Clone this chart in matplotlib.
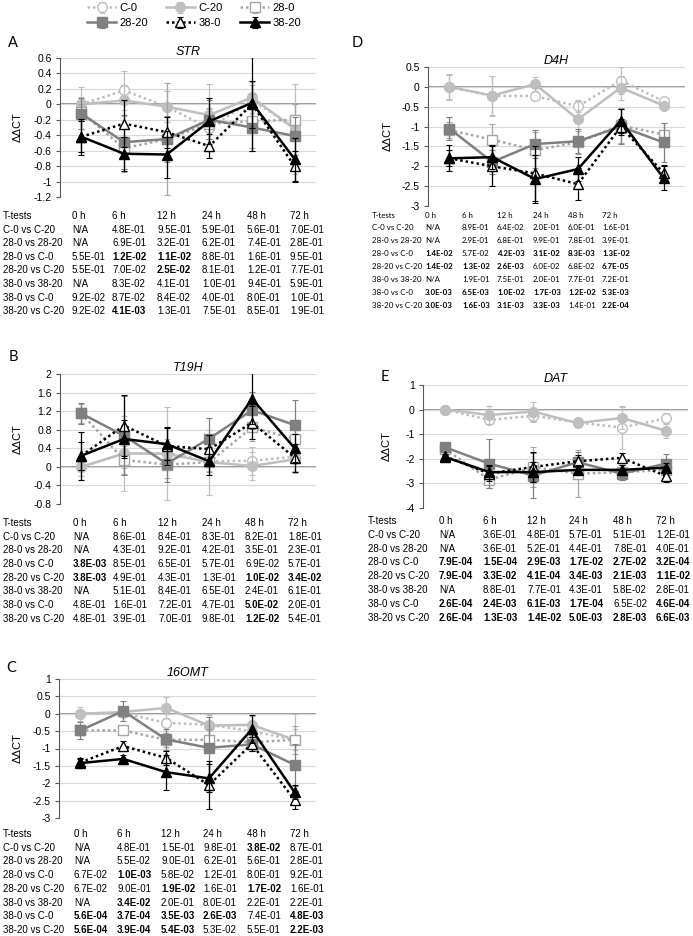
import numpy as np
import matplotlib
matplotlib.use('Agg')
import matplotlib.pyplot as plt
from matplotlib.ticker import FuncFormatter, MultipleLocator

plt.rcParams['font.family'] = ['Liberation Sans', 'DejaVu Sans']

W, H = 693, 936

times = ['0 h', '6 h', '12 h', '24 h', '48 h', '72 h']
series = ['C-0', 'C-20', '28-0', '28-20', '38-0', '38-20']

# means (rows follow `series`)
STR_MEAN = [[0, 0.18, -0.03, -0.31, 0.05, -0.3],
            [0, 0.05, -0.03, -0.14, 0.09, -0.32],
            [-0.1, -0.57, -0.45, -0.25, -0.22, -0.2],
            [-0.12, -0.49, -0.45, -0.2, -0.3, -0.41],
            [-0.42, -0.25, -0.36, -0.54, 0.0, -0.8],
            [-0.42, -0.64, -0.65, -0.22, 0.02, -0.71]]
STR_ERR = [[0.1, 0.25, 0.2, 0.25, 0.2, 0.3],
           [0.22, 0.2, 0.2, 0.4, 0.2, 0.58],
           [0.1, 0.3, 0.72, 0.2, 0.35, 0.2],
           [0.2, 0.35, 0.3, 0.25, 0.3, 0.25],
           [0.2, 0.3, 0.2, 0.15, 0.3, 0.2],
           [0.23, 0.22, 0.3, 0.3, 0.62, 0.28]]

T19H_MEAN = [[0, 0.28, 0.3, 0.12, 0.13, 0.22],
             [0, 0.29, 0.28, 0.1, 0.02, 0.16],
             [1.15, 0.15, 0.05, 0.1, 0.85, 0.6],
             [1.15, 0.67, 0.07, 0.61, 1.22, 0.9],
             [0.24, 0.89, 0.45, 0.38, 0.95, 0.2],
             [0.24, 0.6, 0.49, 0.12, 1.47, 0.4]]
T19H_ERR = [[0.2, 0.3, 0.3, 0.2, 0.3, 0.3],
            [0.2, 0.8, 1.0, 0.7, 0.3, 0.3],
            [0.2, 0.3, 0.3, 0.2, 0.3, 0.4],
            [0.22, 0.85, 0.4, 0.45, 0.4, 0.55],
            [0.3, 0.65, 0.4, 0.3, 0.35, 0.3],
            [0.52, 0.4, 0.35, 0.3, 0.55, 0.3]]

OMT_MEAN = [[0, 0.02, -0.26, -0.32, -0.5, -0.75],
            [0, 0.05, 0.17, -0.34, -0.32, -0.75],
            [-0.48, -0.48, -0.75, -0.75, -0.82, -0.75],
            [-0.48, 0.08, -0.74, -0.98, -0.88, -1.47],
            [-1.4, -0.93, -1.27, -2.05, -0.87, -2.48],
            [-1.42, -1.3, -1.68, -1.86, -0.45, -2.26]]
OMT_ERR = [[0.1, 0.1, 0.25, 0.3, 0.3, 0.3],
           [0.2, 0.1, 0.3, 0.3, 0.25, 0.75],
           [0.1, 0.12, 0.2, 0.3, 0.2, 0.4],
           [0.25, 0.3, 0.3, 0.9, 0.2, 0.6],
           [0.1, 0.15, 0.2, 0.7, 0.2, 0.27],
           [0.15, 0.1, 0.5, 0.4, 0.4, 0.2]]

D4H_MEAN = [[0, -0.23, -0.23, -0.49, 0.16, -0.36],
            [0, -0.22, 0.07, -0.82, -0.02, -0.47],
            [-1.09, -1.33, -1.59, -1.4, -0.97, -1.2],
            [-1.05, -1.89, -1.44, -1.37, -1.0, -1.4],
            [-1.8, -2.0, -2.18, -2.45, -1.0, -2.17],
            [-1.8, -1.77, -2.32, -2.07, -0.85, -2.3]]
D4H_ERR = [[0.3, 0.5, 0.1, 0.15, 0.35, 0.1],
           [0.33, 0.5, 0.17, 0.47, 0.3, 0.1],
           [0.2, 0.4, 0.45, 0.3, 0.45, 0.3],
           [0.3, 0.3, 0.35, 0.3, 0.45, 0.5],
           [0.2, 0.5, 0.7, 0.4, 0.2, 0.2],
           [0.33, 0.3, 0.6, 0.3, 0.3, 0.3]]

DAT_MEAN = [[0, -0.42, -0.25, -0.52, -0.73, -0.36],
            [0, -0.22, -0.08, -0.55, -0.34, -0.86],
            [-1.6, -2.85, -2.34, -2.6, -2.55, -2.45],
            [-1.53, -2.2, -2.68, -2.14, -2.6, -2.2],
            [-1.9, -2.6, -2.33, -2.1, -1.96, -2.7],
            [-1.93, -2.54, -2.54, -2.45, -2.45, -2.36]]
DAT_ERR = [[0.1, 0.15, 0.25, 0.1, 0.87, 0.22],
           [0.1, 0.35, 0.4, 0.1, 0.45, 0.3],
           [0.1, 0.35, 0.8, 0.95, 0.3, 0.2],
           [0.1, 1.0, 0.92, 0.4, 0.25, 0.4],
           [0.1, 0.3, 0.6, 0.25, 0.2, 0.25],
           [0.1, 0.3, 0.4, 0.2, 0.2, 0.2]]

# t-test tables
ttest_rows = ['C-0 vs C-20', '28-0 vs 28-20', '28-0 vs C-0', '28-20 vs C-20',
              '38-0 vs 38-20', '38-0 vs C-0', '38-20 vs C-20']
STR_P = [['N/A', '4.8E-01', '9.5E-01', '5.9E-01', '5.6E-01', '7.0E-01'],
         ['N/A', '6.9E-01', '3.2E-01', '6.2E-01', '7.4E-01', '2.8E-01'],
         ['5.5E-01', '1.2E-02', '1.1E-02', '8.8E-01', '1.6E-01', '9.5E-01'],
         ['5.5E-01', '7.0E-02', '2.5E-02', '8.1E-01', '1.2E-01', '7.7E-01'],
         ['N/A', '8.3E-02', '4.1E-01', '1.0E-01', '9.4E-01', '5.9E-01'],
         ['9.2E-02', '8.7E-02', '8.4E-02', '4.0E-01', '8.0E-01', '1.0E-01'],
         ['9.2E-02', '4.1E-03', '1.3E-01', '7.5E-01', '8.5E-01', '1.9E-01']]
T19H_P = [['N/A', '8.6E-01', '8.4E-01', '8.3E-01', '8.2E-01', '1.8E-01'],
          ['N/A', '4.3E-01', '9.2E-01', '4.2E-01', '3.5E-01', '2.3E-01'],
          ['3.8E-03', '8.5E-01', '6.5E-01', '5.7E-01', '6.9E-02', '5.7E-01'],
          ['3.8E-03', '4.9E-01', '4.3E-01', '1.3E-01', '1.0E-02', '3.4E-02'],
          ['N/A', '5.1E-01', '8.4E-01', '6.5E-01', '2.4E-01', '6.1E-01'],
          ['4.8E-01', '1.6E-01', '7.2E-01', '4.7E-01', '5.0E-02', '2.0E-01'],
          ['4.8E-01', '3.9E-01', '7.0E-01', '9.8E-01', '1.2E-02', '5.4E-01']]
OMT_P = [['N/A', '4.8E-01', '1.5E-01', '9.8E-01', '3.8E-02', '8.7E-01'],
         ['N/A', '5.5E-02', '9.0E-01', '6.2E-01', '5.6E-01', '2.8E-01'],
         ['6.7E-02', '1.0E-03', '5.8E-02', '1.2E-01', '8.0E-01', '9.2E-01'],
         ['6.7E-02', '9.0E-01', '1.9E-02', '1.6E-01', '1.7E-02', '1.6E-01'],
         ['N/A', '3.4E-02', '2.0E-01', '8.0E-01', '2.2E-01', '2.2E-01'],
         ['5.6E-04', '3.7E-04', '3.5E-03', '2.6E-03', '7.4E-01', '4.8E-03'],
         ['5.6E-04', '3.9E-04', '5.4E-03', '5.3E-02', '5.5E-01', '2.2E-03']]
D4H_P = [['N/A', '8.9E-01', '6.4E-02', '2.0E-01', '6.0E-01', '1.6E-01'],
         ['N/A', '2.9E-01', '6.8E-01', '9.9E-01', '7.8E-01', '3.9E-01'],
         ['1.4E-02', '5.7E-02', '4.2E-03', '3.1E-02', '8.3E-03', '1.3E-02'],
         ['1.4E-02', '1.3E-02', '2.6E-03', '6.0E-02', '6.8E-02', '6.7E-05'],
         ['N/A', '1.9E-01', '7.5E-01', '2.0E-01', '7.7E-01', '7.2E-01'],
         ['3.0E-03', '6.5E-03', '1.0E-02', '1.7E-03', '1.2E-02', '5.3E-03'],
         ['3.0E-03', '1.6E-03', '3.1E-03', '3.3E-03', '1.4E-01', '2.2E-04']]
DAT_P = [['N/A', '3.6E-01', '4.8E-01', '5.7E-01', '5.1E-01', '1.2E-01'],
         ['N/A', '3.6E-01', '5.2E-01', '4.4E-01', '7.8E-01', '4.0E-01'],
         ['7.9E-04', '1.5E-04', '2.9E-03', '1.7E-02', '2.7E-02', '3.2E-04'],
         ['7.9E-04', '3.3E-02', '4.1E-04', '3.4E-03', '2.1E-03', '1.1E-02'],
         ['N/A', '8.8E-01', '7.7E-01', '4.3E-01', '5.8E-02', '2.8E-01'],
         ['2.6E-04', '2.4E-03', '6.1E-03', '1.7E-04', '6.5E-02', '4.6E-04'],
         ['2.6E-04', '1.3E-03', '1.4E-02', '5.0E-03', '2.8E-03', '6.6E-03']]

styles = [dict(color='#bfbfbf', ls=(0, (1, 1.2)), marker='o', mfc='white'),
          dict(color='#bfbfbf', ls='-', marker='o', mfc='#bfbfbf'),
          dict(color='#a6a6a6', ls=(0, (1, 1.2)), marker='s', mfc='white'),
          dict(color='#808080', ls='-', marker='s', mfc='#808080'),
          dict(color='black', ls=(0, (1, 1.2)), marker='^', mfc='white'),
          dict(color='black', ls='-', marker='^', mfc='black')]

fig = plt.figure(figsize=(W / 100, H / 100), dpi=100)


def px_axes(x0, y0, x1, y1):
    return fig.add_axes([x0 / W, 1 - y1 / H, (x1 - x0) / W, (y1 - y0) / H])


def fmt(v, p):
    if abs(v) < 1e-9:
        return '0'
    return '%g' % round(v, 2)


def panel(box, mean, err, ylim, step, title, letter, lpos, ylab_x):
    ax = px_axes(*box)
    x = np.arange(len(times))
    handles = []
    for i, s in enumerate(styles):
        eb = ax.errorbar(x, mean[i], yerr=err[i], color=s['color'], ls=s['ls'],
                         marker=s['marker'], mfc=s['mfc'], mec=s['color'],
                         ms=7, lw=1.8, elinewidth=0.9, capsize=2, capthick=0.8,
                         zorder=3 + i)
        handles.append(eb)
    ax.set_xlim(-0.5, len(times) - 0.5)
    ax.set_ylim(*ylim)
    ax.yaxis.set_major_locator(MultipleLocator(step))
    ax.yaxis.set_major_formatter(FuncFormatter(fmt))
    ax.grid(axis='y', color='#d9d9d9', lw=0.8, zorder=0)
    ax.axhline(0, color='#7f7f7f', lw=1.1, zorder=1)
    for sp in ['top', 'right', 'bottom']:
        ax.spines[sp].set_visible(False)
    ax.spines['left'].set_color('#595959')
    ax.set_xticks([])
    ax.tick_params(axis='y', labelsize=7.5, length=3, color='#595959', pad=3)
    ax.set_title(title, style='italic', fontsize=9, pad=2)
    fig.text(lpos[0] / W, 1 - lpos[1] / H, letter, fontsize=10.5,
             family=['Lato', 'DejaVu Sans'], va='center', ha='left')
    fig.text(ylab_x / W, 1 - (box[1] + box[3]) / 2 / H, 'ΔΔCT', rotation=90,
             fontsize=8, va='center', ha='center')
    return handles


def table(rows, cols_x, y0, dy, family, size):
    hdr = ['T-tests'] + times
    for j, t in enumerate(hdr):
        fig.text(cols_x[j] / W, 1 - y0 / H, t, fontsize=size, family=family,
                 va='center', ha='left')
    for i, name in enumerate(ttest_rows):
        y = 1 - (y0 + dy * (i + 1)) / H
        fig.text(cols_x[0] / W, y, name, fontsize=size, family=family,
                 va='center', ha='left')
        for j, v in enumerate(rows[i]):
            bold = v != 'N/A' and float(v) <= 0.05
            fig.text(cols_x[j + 1] / W, y, v, fontsize=size, family=family,
                     weight='bold' if bold else 'normal', va='center', ha='left')


arial = ['Liberation Sans', 'DejaVu Sans']
calib = ['Lato', 'DejaVu Sans']

h = panel((60, 58, 316, 197), STR_MEAN, STR_ERR, (-1.2, 0.6), 0.2, 'STR', 'A', (8, 43), 18)
table(STR_P, [3, 72, 112, 157, 202, 247, 290], 216, 13.6, arial, 7)

panel((60, 374, 316, 504), T19H_MEAN, T19H_ERR, (-0.8, 2.0), 0.4, 'T19H', 'B', (9, 357), 18)
table(T19H_P, [3, 73, 113, 158, 202, 245, 288], 523, 13.7, arial, 7)

panel((59, 679, 316, 818), OMT_MEAN, OMT_ERR, (-3, 1), 0.5, '16OMT', 'C', (6, 668), 18)
table(OMT_P, [3, 74, 117, 161, 203, 247, 290], 834, 13.7, arial, 7)

panel((428, 67, 685, 206), D4H_MEAN, D4H_ERR, (-3, 0.5), 0.5, 'D4H', 'D', (352, 43), 388)
table(D4H_P, [372, 425, 462, 497, 533, 568, 602], 215, 12.9, calib, 5.7)

panel((423, 385, 688, 508), DAT_MEAN, DAT_ERR, (-4, 1), 1, 'DAT', 'E', (381, 377), 387)
table(DAT_P, [368, 439, 483, 527, 569, 613, 656], 521, 13.8, arial, 7)

# legend: row-wise order for a 3-column legend
order = [0, 3, 1, 4, 2, 5]
fig.legend([h[k] for k in order], [series[k] for k in order], ncol=3,
           loc='upper left', bbox_to_anchor=(84 / W, 1.0), frameon=False,
           fontsize=8, handlelength=2.6, columnspacing=1.6, handletextpad=0.3,
           labelspacing=0.45, borderaxespad=0.2, borderpad=0.1)

fig.savefig('out.png', dpi=100)
